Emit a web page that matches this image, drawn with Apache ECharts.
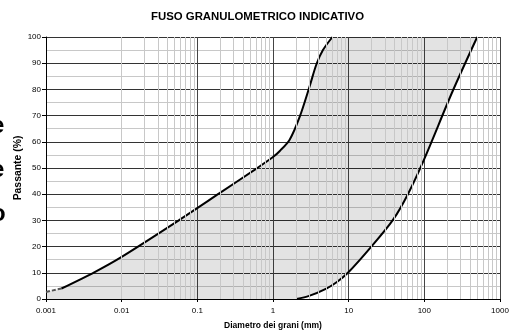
<!DOCTYPE html>
<html>
<head>
<meta charset="utf-8">
<script src="https://cdn.jsdelivr.net/npm/echarts@6/dist/echarts.min.js"></script>
<style>html,body{margin:0;padding:0;background:#fff}#c{width:515px;height:336px}</style>
</head>
<body>
<div id="c"></div>
<script>
// ---- data ----
var titleText = 'FUSO GRANULOMETRICO INDICATIVO';
var xAxisTitle = 'Diametro dei grani (mm)';
var yAxisTitle = 'Passante (%)';
var xTickLabels = ['0.001', '0.01', '0.1', '1', '10', '100', '1000'];
var yTickLabels = ['0', '10', '20', '30', '40', '50', '60', '70', '80', '90', '100'];

// upper (fine) limit curve: dashed start, then solid
var upperDashX = [0.001, 0.0016];
var upperDashY = [2.7, 4.0];
var upperX = [0.0016, 0.0044, 0.01, 0.058, 0.197, 0.57, 1, 1.23, 1.66, 2.25, 3.05, 3.74, 4.57, 6.1];
var upperY = [4.0, 10.3, 16.1, 30.2, 40.4, 49.3, 54.2, 56.5, 60.8, 69.5, 81.2, 89.5, 95.0, 100];

// lower (coarse) limit curve
var lowerX = [2.04, 3, 5.07, 7, 10, 19.8, 38.5, 60.6, 100, 234, 500];
var lowerY = [0, 1.2, 4.0, 6.5, 10.3, 19.9, 30.2, 40.0, 53.5, 79.0, 100];

// stray glyphs at left edge
var strayGlyphs = ['e', 'e', 'o'];

function pairs(xs, ys) { return xs.map(function (x, i) { return [x, ys[i]]; }); }

var minorX = [];
[0.001, 0.01, 0.1, 1, 10, 100].forEach(function (d) {
  for (var k = 2; k <= 9; k++) minorX.push({ xAxis: +(d * k).toPrecision(3) });
});

var chart = echarts.init(document.getElementById('c'), null, { renderer: 'canvas' });

var option = {
  animation: false,
  backgroundColor: '#fff',
  title: {
    text: titleText, left: 'center', top: 6,
    textStyle: { fontFamily: 'Liberation Sans, Arial', fontSize: 11.4, fontWeight: 'bold', color: '#000' }
  },
  grid: { left: 46, right: 15, top: 37, bottom: 37 },
  xAxis: {
    type: 'log', logBase: 10, min: 0.001, max: 1000,
    name: xAxisTitle, nameLocation: 'middle', nameGap: 22, nameMoveOverlap: false,
    nameTextStyle: { fontFamily: 'Liberation Sans, Arial', fontSize: 8.5, fontWeight: 'bold', color: '#000' },
    axisLine: { show: true, onZero: false, lineStyle: { color: '#000', width: 1 } },
    axisTick: { show: true, length: 3, lineStyle: { color: '#000' } },
    axisLabel: {
      fontFamily: 'Liberation Sans, Arial', fontSize: 8, color: '#000', margin: 8,
      formatter: function (v) { return xTickLabels[Math.round(Math.log10(v)) + 3]; }
    },
    splitLine: { show: true, lineStyle: { color: '#444', width: 1 } }
  },
  yAxis: {
    type: 'value', min: 0, max: 100, interval: 10,
    name: yAxisTitle, nameLocation: 'middle', nameGap: 23, nameRotate: 90, nameMoveOverlap: false,
    nameTextStyle: { fontFamily: 'Liberation Sans, Arial', fontSize: 10.4, fontWeight: 'bold', color: '#000' },
    axisLine: { show: true, lineStyle: { color: '#000', width: 1 } },
    axisTick: { show: true, length: 4, lineStyle: { color: '#000' } },
    axisLabel: {
      fontFamily: 'Liberation Sans, Arial', fontSize: 8, color: '#000', margin: 5,
      formatter: function (v) { return yTickLabels[Math.round(v / 10)]; }
    },
    splitLine: { show: true, lineStyle: { color: '#333', width: 1 } },
    minorTick: { show: false, splitNumber: 2 },
    minorSplitLine: { show: true, lineStyle: { color: '#c8c8c8', width: 1 } }
  },
  graphic: [{
    id: 'glyphs', type: 'text', left: -9, top: 104, z: 100,
    style: { text: strayGlyphs.join('\n'), font: 'bold 24px Liberation Sans, Arial', lineHeight: 44, fill: '#000' }
  }],
  series: [
    {
      type: 'line', data: [[1, 50]], symbol: 'none', lineStyle: { opacity: 0 }, z: 1,
      silent: true,
      markLine: {
        silent: true, symbol: 'none', label: { show: false },
        lineStyle: { color: '#c8c8c8', width: 1, type: 'solid' },
        data: minorX
      }
    },
    {
      type: 'custom', z: 2, silent: true,
      data: [[1, 50]],
      renderItem: function (params, api) {
        var pts = [];
        upperDashX.forEach(function (x, i) { pts.push(api.coord([x, upperDashY[i]])); });
        upperX.forEach(function (x, i) { pts.push(api.coord([x, upperY[i]])); });
        pts.push(api.coord([lowerX[lowerX.length - 1], 100]));
        for (var i = lowerX.length - 1; i >= 0; i--) pts.push(api.coord([lowerX[i], lowerY[i]]));
        pts.push(api.coord([upperDashX[0], 0]));
        return {
          type: 'polygon', shape: { points: pts, smooth: 0 },
          style: { fill: 'rgba(0,0,0,0.11)', stroke: null }
        };
      }
    },
    {
      type: 'line', data: pairs(upperDashX, upperDashY), symbol: 'none', z: 3,
      lineStyle: { color: '#555', width: 2, type: [4, 2] }
    },
    {
      type: 'line', data: pairs(upperX, upperY), symbol: 'none', smooth: 0.3, z: 3,
      lineStyle: { color: '#000', width: 2 }
    },
    {
      type: 'line', data: pairs(lowerX, lowerY), symbol: 'none', smooth: 0.3, z: 3,
      lineStyle: { color: '#000', width: 2 }
    }
  ]
};
chart.setOption(option);
</script>
</body>
</html>
